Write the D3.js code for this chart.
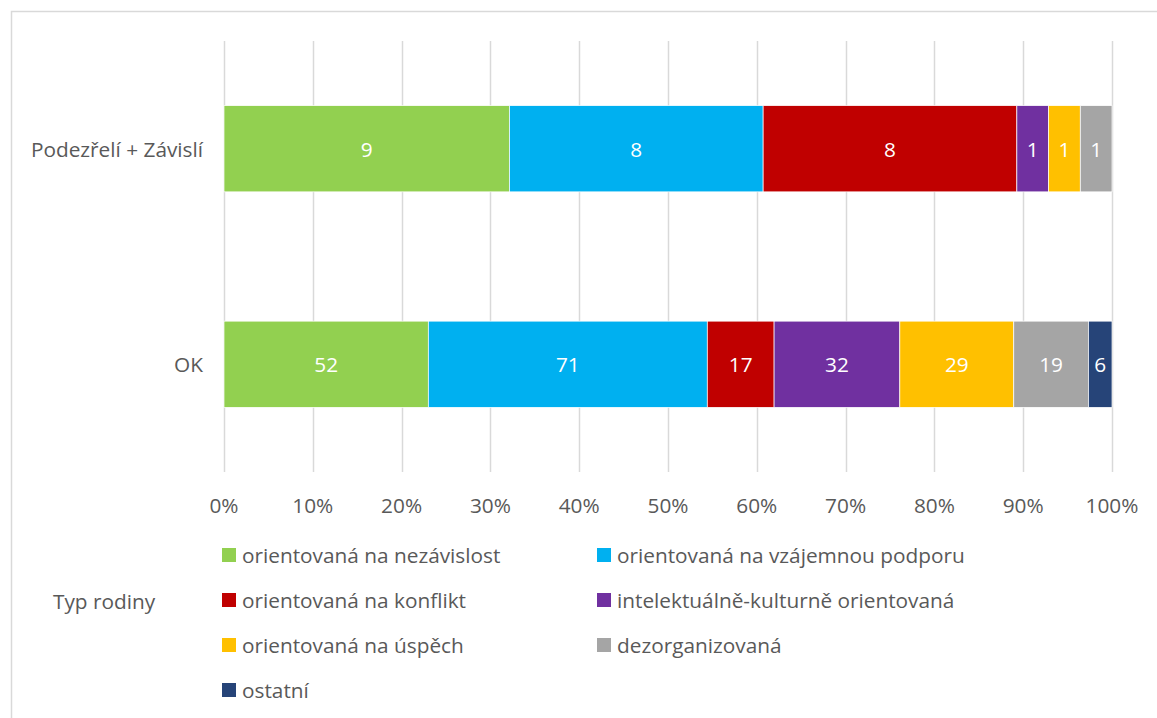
<!DOCTYPE html>
<html><head><meta charset="utf-8">
<script src="https://cdn.jsdelivr.net/npm/d3@7"></script>
<style>body{margin:0;background:#fff;} text{font-family:"Open Sans",sans-serif;}</style>
</head><body><svg id="c" width="1157" height="718"></svg>
<script>
const categories = ["Podezřelí + Závislí", "OK"];
const seriesNames = ["orientovaná na nezávislost","orientovaná na vzájemnou podporu","orientovaná na konflikt","intelektuálně-kulturně orientovaná","orientovaná na úspěch","dezorganizovaná","ostatní"];
const seriesColors = ["#92d050","#00b0f0","#c00000","#7030a0","#ffc000","#a5a5a5","#264478"];
const valuesPZ = [9, 8, 8, 1, 1, 1, 0];
const valuesOK = [52, 71, 17, 32, 29, 19, 6];
const tickValues = [0,0.1,0.2,0.3,0.4,0.5,0.6,0.7,0.8,0.9,1];
const legendTitle = "Typ rodiny";

const FS = 20.8;
const svg = d3.select("#c");
svg.append("rect").attr("x",11.5).attr("y",11.5).attr("width",1200).attr("height",800)
  .attr("fill","none").attr("stroke","#d9d9d9").attr("stroke-width",1.5);

const x = d3.scaleLinear().domain([0,1]).range([224,1112]);
const y = d3.scaleBand().domain(categories).range([41,472]).paddingInner(0.6).paddingOuter(0.3);

svg.append("g").selectAll("line").data(tickValues).join("line")
  .attr("x1",d=>Math.round(x(d))+0.5).attr("x2",d=>Math.round(x(d))+0.5)
  .attr("y1",41).attr("y2",472).attr("stroke","#d9d9d9").attr("stroke-width",1.5);

const rows = [valuesPZ, valuesOK];
rows.forEach((vals,i)=>{
  const total = d3.sum(vals);
  let cum = 0;
  const segs = vals.map((v,j)=>{const s={v,j,x0:cum/total,x1:(cum+v)/total}; cum+=v; return s;}).filter(s=>s.v>0);
  const g = svg.append("g");
  g.selectAll("rect").data(segs).join("rect")
    .attr("x",d=>x(d.x0)).attr("width",d=>x(d.x1)-x(d.x0))
    .attr("y",y(categories[i])).attr("height",y.bandwidth())
    .attr("fill",d=>seriesColors[d.j]).attr("stroke","#fff").attr("stroke-width",0.7);
  g.selectAll("text").data(segs).join("text")
    .attr("x",d=>(x(d.x0)+x(d.x1))/2).attr("y",y(categories[i])+y.bandwidth()/2)
    .attr("text-anchor","middle").attr("dominant-baseline","central")
    .attr("fill","#fff").attr("font-size",FS).text(d=>d.v);
});

svg.append("g").selectAll("text").data(categories).join("text")
  .attr("x",203).attr("y",d=>y(d)+y.bandwidth()/2).attr("text-anchor","end")
  .attr("dominant-baseline","central").attr("fill","#595959").attr("font-size",FS).text(d=>d);

svg.append("g").selectAll("text").data(tickValues).join("text")
  .attr("x",d=>x(d)).attr("y",505).attr("text-anchor","middle").attr("dominant-baseline","central")
  .attr("fill","#595959").attr("font-size",FS).text(d=>d3.format(".0%")(d));

svg.append("text").attr("x",53).attr("y",601).attr("dominant-baseline","central")
  .attr("fill","#595959").attr("font-size",FS).text(legendTitle);
const rowY = [555,600,645,690];
const colX = [222,597];
const lg = svg.append("g").selectAll("g").data(seriesNames).join("g")
  .attr("transform",(d,i)=>`translate(${colX[i%2]},${rowY[Math.floor(i/2)]})`);
lg.append("rect").attr("x",0).attr("y",-7).attr("width",14).attr("height",14).attr("fill",(d,i)=>seriesColors[i]);
lg.append("text").attr("x",20).attr("y",0).attr("dominant-baseline","central")
  .attr("fill","#595959").attr("font-size",FS).text(d=>d);
</script></body></html>
